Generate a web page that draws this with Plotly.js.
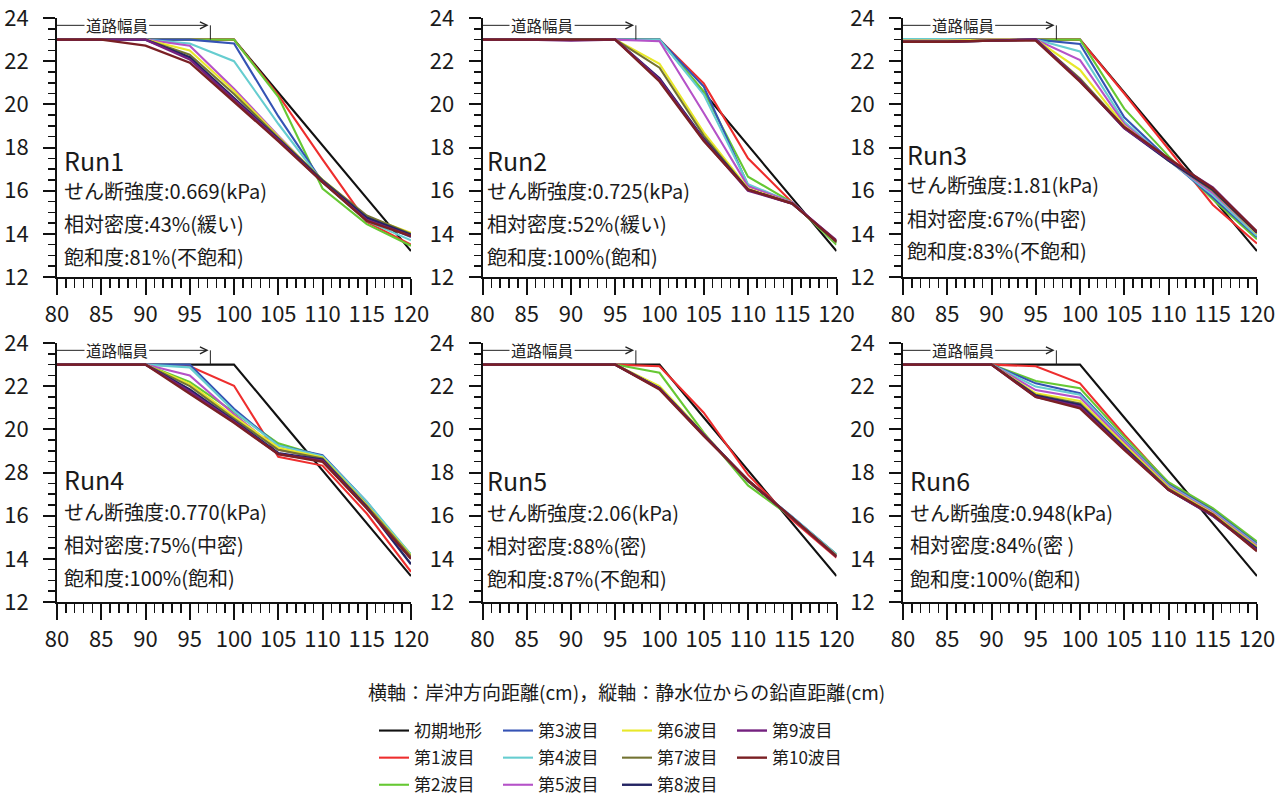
<!DOCTYPE html>
<html>
<head>
<meta charset="utf-8">
<script src="https://cdn.plot.ly/plotly-3.0.1.min.js"></script>
<style>
  html, body { margin: 0; padding: 0; background: #ffffff; }
  #chart { width: 1284px; height: 796px; }
</style>
</head>
<body>
<div id="chart"></div>
<script>
// Horizontal positions of the survey points (cm from the reference point)
const distance = [80, 85, 90, 95, 100, 105, 110, 115, 120];

const seriesNames = ['初期地形', '第1波目', '第2波目', '第3波目', '第4波目', '第5波目',
                     '第6波目', '第7波目', '第8波目', '第9波目', '第10波目'];
const seriesColors = ['#111111', '#ee2e2e', '#66c833', '#3553b4', '#66cdd0', '#b552c8',
                      '#e8e82a', '#737332', '#232463', '#74217f', '#7a2024'];

// Initial bank profile, shared by every run
const initialProfile = [23, 23, 23, 23, 23, 20.55, 18.1, 15.65, 13.2];

// Profiles after each wave (rows: 1st .. 10th wave)
const run1Waves = [
  [23, 23, 23, 23, 23, 20.43, 17.45, 14.55, 13.5],
  [23, 23, 23, 23, 23, 20.35, 16.1, 14.45, 13.45],
  [23, 23, 23, 23, 22.82, 19.45, 16.4, 14.7, 13.85],
  [23, 23, 23, 22.82, 22.0, 19.1, 16.4, 14.6, 13.7],
  [23, 23, 23, 22.72, 20.72, 18.55, 16.45, 14.75, 13.95],
  [23, 23, 23, 22.5, 20.62, 18.5, 16.5, 14.8, 14.05],
  [23, 23, 23, 22.3, 20.48, 18.45, 16.5, 14.85, 14.0],
  [23, 23, 23, 22.18, 20.3, 18.4, 16.45, 14.75, 13.95],
  [23, 23, 23, 22.08, 20.2, 18.35, 16.4, 14.65, 13.9],
  [23, 23, 22.72, 21.93, 20.12, 18.3, 16.4, 14.6, 13.9]
];
const run2Waves = [
  [23, 23, 23, 23, 23, 20.97, 17.5, 15.45, 13.6],
  [23, 23, 23, 23, 23, 20.6, 16.65, 15.45, 13.5],
  [23, 23, 23, 23, 23, 20.82, 16.25, 15.45, 13.6],
  [23, 23, 23, 23, 23, 20.45, 16.3, 15.45, 13.6],
  [23, 23, 23, 23, 22.92, 19.6, 16.2, 15.45, 13.65],
  [23, 23, 23, 23, 21.88, 18.7, 16.1, 15.42, 13.6],
  [23, 23, 23, 23, 21.7, 18.55, 16.05, 15.42, 13.6],
  [23, 23, 23, 23, 21.2, 18.4, 16.05, 15.4, 13.65],
  [23, 23, 22.95, 23, 21.15, 18.35, 16.0, 15.4, 13.7],
  [23, 23, 23, 23, 21.06, 18.3, 16.05, 15.4, 13.65]
];
const run3Waves = [
  [23, 23, 23, 23, 23, 20.5, 17.9, 15.35, 13.55],
  [23, 23, 23, 23, 23, 19.8, 17.6, 15.6, 13.75],
  [23, 23, 23, 23, 22.8, 19.4, 17.45, 15.7, 13.85],
  [23.02, 23.02, 22.95, 23, 22.45, 19.2, 17.4, 15.8, 13.9],
  [22.95, 22.95, 23, 23, 22.05, 19.1, 17.4, 15.9, 14.0],
  [22.95, 22.95, 23, 23, 21.6, 19.0, 17.4, 16.0, 14.0],
  [22.9, 22.9, 22.95, 23, 21.2, 18.95, 17.4, 16.0, 14.05],
  [22.9, 22.9, 22.95, 23, 21.1, 18.9, 17.4, 16.05, 14.05],
  [22.9, 22.9, 22.95, 23, 21.1, 18.9, 17.45, 16.15, 14.1],
  [22.9, 22.9, 22.95, 22.95, 21.05, 18.95, 17.5, 16.1, 14.1]
];
const run4Waves = [
  [23, 23, 23, 22.92, 22.02, 18.73, 18.32, 16.1, 13.4],
  [23, 23, 23, 22.2, 20.8, 19.35, 18.75, 16.55, 14.2],
  [23, 23, 23, 23, 20.95, 19.25, 18.8, 16.65, 14.1],
  [23, 23, 23, 22.87, 20.85, 19.25, 18.75, 16.65, 14.2],
  [23, 23, 23, 22.5, 20.7, 19.05, 18.65, 16.5, 14.1],
  [23, 23, 23, 22.1, 20.6, 19.15, 18.7, 16.5, 14.15],
  [23, 23, 23, 22.0, 20.5, 19.05, 18.65, 16.45, 14.1],
  [23, 23, 23, 21.85, 20.4, 18.9, 18.6, 16.4, 13.75],
  [23, 23, 23, 21.75, 20.35, 18.85, 18.55, 16.35, 14.0],
  [23, 23, 23, 21.65, 20.3, 18.85, 18.5, 16.35, 14.0]
];
const run5Waves = [
  [23, 23, 23, 23, 22.92, 20.77, 17.9, 15.8, 14.05],
  [23, 23, 23, 23, 22.62, 19.85, 17.4, 15.9, 14.2],
  [23, 23, 23, 23, 21.95, 19.8, 17.6, 15.95, 14.2],
  [23, 23, 23, 23, 21.95, 19.8, 17.6, 15.95, 14.2],
  [23, 23, 23, 23, 21.95, 19.8, 17.6, 15.9, 14.15],
  [23, 23, 23, 23, 22.0, 19.8, 17.6, 15.9, 14.15],
  [23, 23, 23, 23, 21.9, 19.75, 17.6, 15.9, 14.15],
  [23, 23, 23, 23, 21.9, 19.75, 17.62, 15.9, 14.1],
  [23, 23, 23, 23, 21.88, 19.72, 17.65, 15.9, 14.1],
  [23, 23, 23, 23, 21.85, 19.7, 17.65, 15.9, 14.1]
];
const run6Waves = [
  [23, 23, 23, 22.92, 22.13, 19.75, 17.5, 16.3, 14.7],
  [23, 23, 23, 22.24, 21.9, 19.65, 17.55, 16.35, 14.8],
  [23, 23, 23, 22.13, 21.67, 19.5, 17.45, 16.25, 14.7],
  [23, 23, 23, 21.98, 21.6, 19.45, 17.4, 16.2, 14.65],
  [23, 23, 23, 21.82, 21.47, 19.4, 17.35, 16.15, 14.6],
  [23, 23, 23, 21.67, 21.31, 19.3, 17.3, 16.1, 14.55],
  [23, 23, 23, 21.6, 21.2, 19.2, 17.25, 16.05, 14.5],
  [23, 23, 23, 21.56, 21.13, 19.15, 17.2, 16.0, 14.45],
  [23, 23, 23, 21.5, 21.05, 19.1, 17.2, 16.0, 14.4],
  [23, 23, 23, 21.5, 20.97, 19.05, 17.2, 16.05, 14.35]
];
const runWaves = [run1Waves, run2Waves, run3Waves, run4Waves, run5Waves, run6Waves];

// Test conditions written inside each panel
const runLabels = ['Run1', 'Run2', 'Run3', 'Run4', 'Run5', 'Run6'];
const shearStrength = ['0.669', '0.725', '1.81', '0.770', '2.06', '0.948'];
const relativeDensity = ['43%(緩い)', '52%(緩い)', '67%(中密)', '75%(中密)', '88%(密)', '84%(密 )'];
const saturation = ['81%(不飽和)', '100%(飽和)', '83%(不飽和)', '100%(飽和)', '87%(不飽和)', '100%(飽和)'];

// Vertical tick labels (the Run4 panel prints 28 in place of 18)
const yTickValues = [12, 14, 16, 18, 20, 22, 24];
const yTickLabels = ['12', '14', '16', '18', '20', '22', '24'];
const yTickLabelsRun4 = ['12', '14', '16', '28', '20', '22', '24'];

// Road width marker
const roadWidthEnd = 97.33;
const roadWidthLevel = 23.66;
const roadSurface = 23;

const axisTitleText = '横軸：岸沖方向距離(cm)，縦軸：静水位からの鉛直距離(cm)';

// ---- layout geometry (pixels on a 1284 x 796 page) ----
const W = 1284, H = 796;
const colLeft = [57, 482.5, 903];
const colRight = [411, 836.5, 1257];
const rowTop = [18, 343];
const rowBottom = [277, 602];
const px = v => v / W;
const py = v => 1 - v / H;

const FONT = '"Noto Sans CJK JP", "Noto Sans", sans-serif';

const traces = [];
const layout = {
  width: W, height: H,
  margin: { l: 0, r: 0, t: 0, b: 0, autoexpand: false },
  paper_bgcolor: '#ffffff',
  plot_bgcolor: 'rgba(0,0,0,0)',
  font: { family: FONT, color: '#1a1a1a' },
  showlegend: true,
  annotations: [],
  shapes: []
};

function legendFor(s) {
  if (s <= 2) return 'legend';
  if (s <= 5) return 'legend2';
  if (s <= 8) return 'legend3';
  return 'legend4';
}

// Panel text positions (left edge px, center y px)
const labelLeft = [63, 486, 906, 63, 486, 909];
const labelRows = [
  [160, 191, 223, 256],
  [160, 191, 223, 256],
  [154, 185, 218, 251],
  [479, 511, 544, 577],
  [480, 512, 545, 578],
  [480, 512, 544, 578]
];

for (let p = 0; p < 6; p++) {
  const row = Math.floor(p / 3), col = p % 3;
  const n = p === 0 ? '' : String(p + 1);
  const xa = 'x' + n, ya = 'y' + n;

  const profiles = [initialProfile].concat(runWaves[p]);
  profiles.forEach((vals, s) => {
    traces.push({
      type: 'scatter', mode: 'lines',
      x: distance, y: vals,
      xaxis: xa, yaxis: ya,
      name: seriesNames[s],
      legend: legendFor(s),
      legendgroup: 'g' + s,
      showlegend: p === 0,
      line: { color: seriesColors[s], width: s >= 8 ? 2.4 : 2.1 },
      hoverinfo: 'skip'
    });
  });

  layout['xaxis' + n] = {
    domain: [px(colLeft[col]), px(colRight[col])],
    anchor: ya,
    range: [80, 120],
    tick0: 80, dtick: 5,
    ticks: 'outside', ticklen: 16, tickwidth: 2, tickcolor: '#111',
    minor: { dtick: 1, ticks: 'outside', ticklen: 9, tickwidth: 1.5, tickcolor: '#111' },
    showline: true, linewidth: 2, linecolor: '#111',
    showgrid: false, zeroline: false,
    tickfont: { family: FONT, size: 22, color: '#1a1a1a' },
    ticklabelstandoff: 1,
    ticklabeloverflow: 'allow'
  };

  layout['yaxis' + n] = {
    domain: [py(rowBottom[row]), py(rowTop[row])],
    anchor: xa,
    range: [12, 24],
    tickmode: 'array', tickvals: yTickValues,
    ticktext: p === 3 ? yTickLabelsRun4 : yTickLabels,
    ticks: 'outside', ticklen: 12, tickwidth: 2, tickcolor: '#111',
    minor: { dtick: 0.5, ticks: 'outside', ticklen: 7, tickwidth: 1.5, tickcolor: '#111' },
    showline: true, linewidth: 2, linecolor: '#111',
    showgrid: false, zeroline: false,
    tickfont: { family: FONT, size: 22, color: '#1a1a1a' },
    ticklabelstandoff: 10,
    ticklabeloverflow: 'allow'
  };

  // road width: left segment, arrow with label, end post
  layout.shapes.push({
    type: 'line', xref: xa, yref: ya,
    x0: 80, x1: 86.7, y0: roadWidthLevel, y1: roadWidthLevel,
    line: { color: '#222', width: 1 }
  });
  layout.shapes.push({
    type: 'line', xref: xa, yref: ya,
    x0: roadWidthEnd, x1: roadWidthEnd, y0: roadSurface, y1: roadWidthLevel,
    line: { color: '#222', width: 1 }
  });
  layout.annotations.push({
    xref: xa, yref: ya, axref: xa, ayref: ya,
    x: roadWidthEnd - 0.2, y: roadWidthLevel,
    ax: 86.74, ay: roadWidthLevel,
    text: '道路幅員', showarrow: true,
    arrowhead: 5, arrowsize: 1.4, arrowwidth: 1, arrowcolor: '#222',
    bgcolor: '#ffffff', borderpad: 1,
    font: { family: FONT, size: 15.5, color: '#222' }
  });

  // run conditions
  const lines = [
    { t: runLabels[p], size: 25 },
    { t: 'せん断強度:' + shearStrength[p] + '(kPa)', size: 20 },
    { t: '相対密度:' + relativeDensity[p], size: 20 },
    { t: '飽和度:' + saturation[p], size: 20 }
  ];
  lines.forEach((ln, i) => {
    layout.annotations.push({
      xref: 'paper', yref: 'paper',
      x: px(labelLeft[p]), y: py(labelRows[p][i]),
      xanchor: 'left', yanchor: 'middle',
      text: ln.t, showarrow: false, borderpad: 0,
      font: { family: FONT, size: ln.size, color: '#1a1a1a' }
    });
  });
}

// shared axis description
layout.annotations.push({
  xref: 'paper', yref: 'paper', x: px(626), y: py(691),
  xanchor: 'center', yanchor: 'middle', showarrow: false,
  text: axisTitleText,
  font: { family: FONT, size: 19, color: '#1a1a1a' }
});

// four legend columns
const legendLeft = [374, 498, 617, 732];
['legend', 'legend2', 'legend3', 'legend4'].forEach((id, i) => {
  layout[id] = {
    x: px(legendLeft[i]), y: py(713),
    xanchor: 'left', yanchor: 'top',
    orientation: 'v',
    bgcolor: 'rgba(0,0,0,0)', borderwidth: 0,
    font: { family: FONT, size: 17, color: '#1a1a1a' },
    tracegroupgap: 2
  };
});

Plotly.newPlot('chart', traces, layout, { staticPlot: true, displayModeBar: false });
</script>
</body>
</html>
